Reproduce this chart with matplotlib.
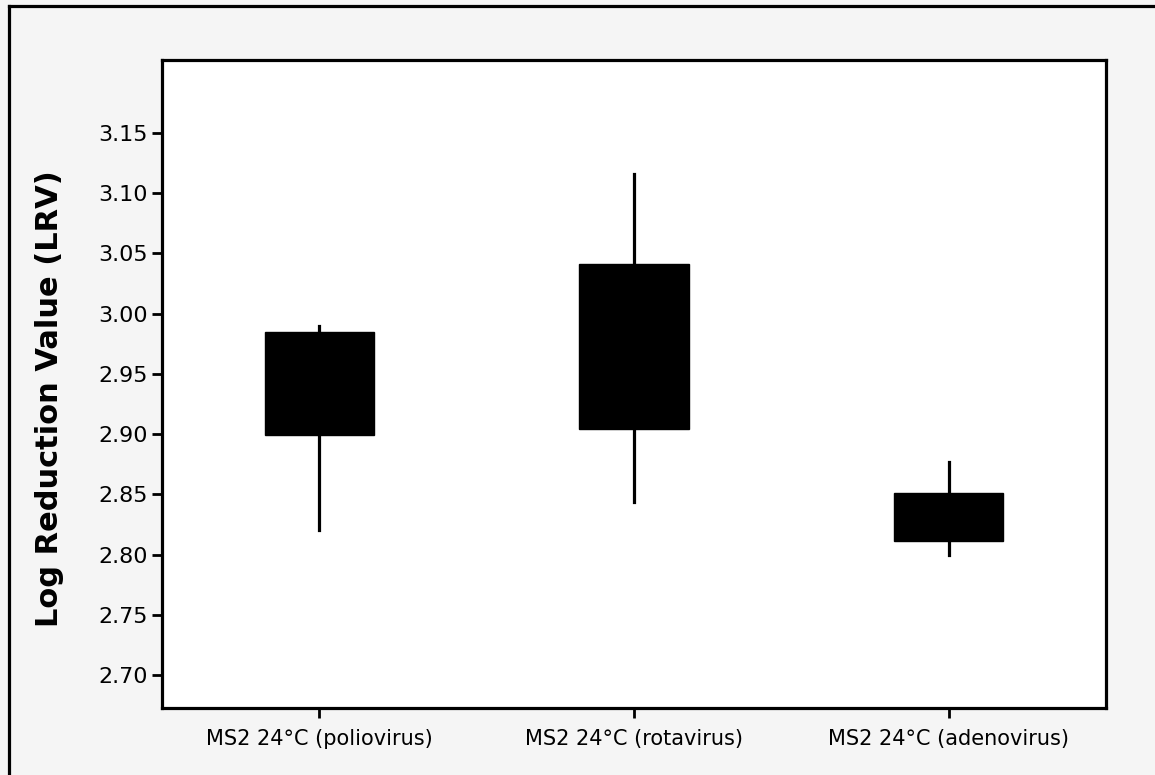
import matplotlib
matplotlib.use("Agg")
import matplotlib.pyplot as plt
from matplotlib.lines import Line2D

# values
labels = ["MS2 24°C (poliovirus)", "MS2 24°C (rotavirus)", "MS2 24°C (adenovirus)"]
whislo = [2.820, 2.844, 2.800]
q1 = [2.899, 2.904, 2.811]
med = [2.950, 2.970, 2.830]
q3 = [2.985, 3.041, 2.851]
whishi = [2.990, 3.116, 2.877]
yticks = [2.70, 2.75, 2.80, 2.85, 2.90, 2.95, 3.00, 3.05, 3.10, 3.15]

stats = []
for i in range(len(labels)):
    stats.append(dict(label=labels[i], whislo=whislo[i], q1=q1[i], med=med[i],
                      q3=q3[i], whishi=whishi[i], fliers=[]))

fig = plt.figure(figsize=(11.55, 7.75), dpi=100, facecolor="#f5f5f5")
ax = fig.add_axes([162 / 1155, 1 - 708 / 775, (1106 - 162) / 1155, (708 - 60) / 775])

ax.bxp(stats, positions=[1, 2, 3], widths=0.347, patch_artist=True, showcaps=False,
       boxprops=dict(facecolor="black", edgecolor="black", linewidth=1),
       whiskerprops=dict(color="black", linewidth=2.3),
       medianprops=dict(color="black", linewidth=1))

ax.set_xlim(0.5, 3.5)
ax.set_ylim(2.6726, 3.2106)
ax.set_yticks(yticks)
ax.set_yticklabels([f"{v:.2f}" for v in yticks])
ax.set_xticks([1, 2, 3])
ax.set_xticklabels(labels)
ax.tick_params(axis="both", direction="out", length=7, width=2, pad=3)
ax.tick_params(axis="y", labelsize=16)
ax.tick_params(axis="x", labelsize=15, pad=8)
for s in ax.spines.values():
    s.set_linewidth(2.3)
ax.set_ylabel("Log Reduction Value (LRV)", fontsize=22, fontweight="bold")
ax.yaxis.set_label_coords(-0.104, 0.478)

# outer frame of the scanned figure
fig.add_artist(Line2D([9 / 1155, 9 / 1155], [0, 1 - 6 / 775], color="black", lw=2.3))
fig.add_artist(Line2D([9 / 1155, 1], [1 - 6 / 775, 1 - 6 / 775], color="black", lw=2.3))

fig.savefig("out.png", dpi=100, facecolor=fig.get_facecolor())
